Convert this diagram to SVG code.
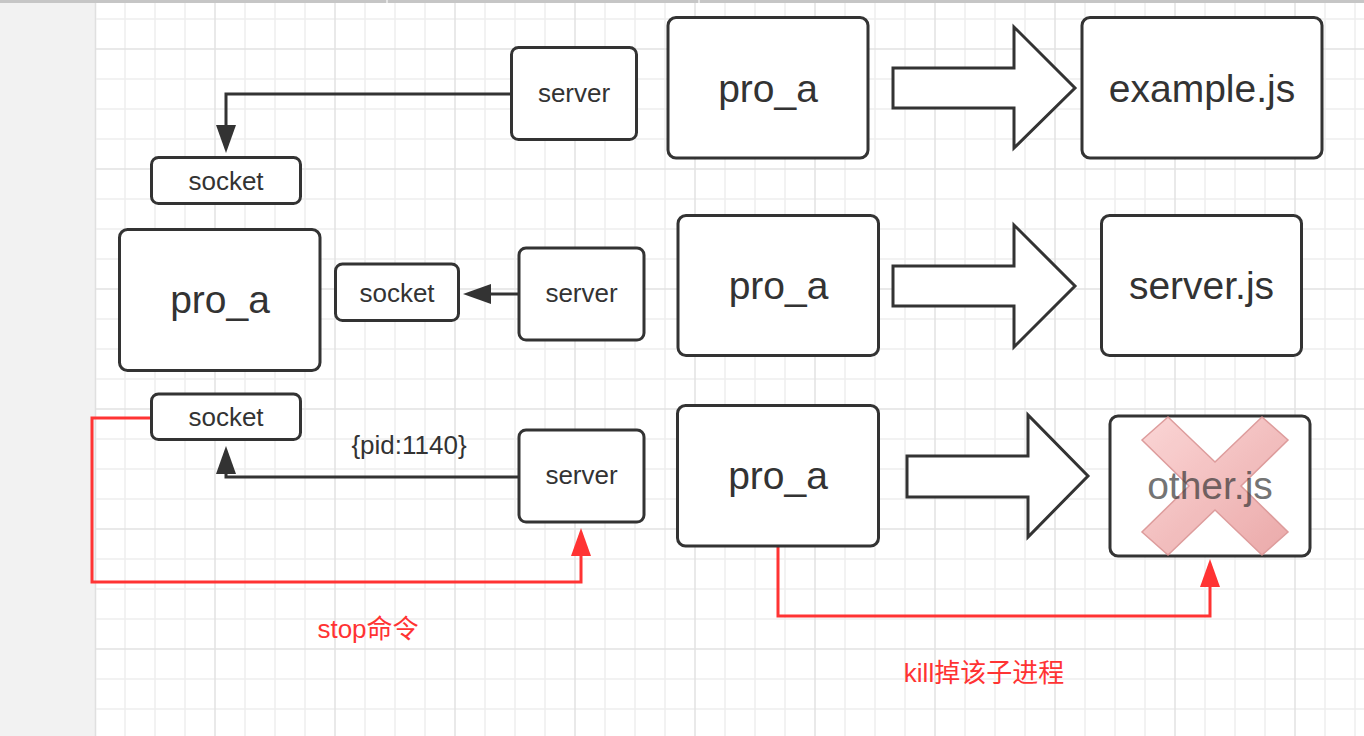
<svg xmlns="http://www.w3.org/2000/svg" width="1364" height="736" viewBox="0 0 1364 736">
<style>
.minor{stroke:#eeeeee;stroke-width:1.5}
.major{stroke:#e2e2e2;stroke-width:1.5}
.box{fill:#ffffff;stroke:#333333;stroke-width:3}
.big{font-family:"Liberation Sans",Arial,sans-serif;font-size:39px;fill:#333333;text-anchor:middle}
.small{font-family:"Liberation Sans",Arial,sans-serif;font-size:26px;fill:#333333;text-anchor:middle}
.red{font-family:"Liberation Sans","Noto Sans CJK SC",sans-serif;font-size:26px;fill:#ff3333;text-anchor:middle}
.line{fill:none;stroke:#333333;stroke-width:3}
.rline{fill:none;stroke:#ff3333;stroke-width:3}
.blk{fill:#ffffff;stroke:#333333;stroke-width:3;stroke-linejoin:miter}
</style>
<defs>
<marker id="ah" markerUnits="userSpaceOnUse" markerWidth="30" markerHeight="22" refX="1" refY="11" orient="auto">
<path d="M0,1 L28,11 L0,21 z" fill="#333333"/>
</marker>
<marker id="ahr" markerUnits="userSpaceOnUse" markerWidth="30" markerHeight="22" refX="1" refY="11" orient="auto">
<path d="M0,1 L28,11 L0,21 z" fill="#ff3333"/>
</marker>
<linearGradient id="xg" x1="0" y1="0" x2="1" y2="1">
<stop offset="0" stop-color="#fbd0d0"/>
<stop offset="1" stop-color="#e89e9e"/>
</linearGradient>
</defs>

<rect x="0" y="0" width="1364" height="736" fill="#ffffff"/>
<rect x="0" y="0" width="95" height="736" fill="#f2f2f2"/>
<line x1="95.5" y1="0" x2="95.5" y2="736" stroke="#e0e0e0" stroke-width="1.5"/>

<g id="grid">
<g class="minor">
<path d="M125,0V736M155,0V736M185,0V736M245,0V736M275,0V736M305,0V736M365,0V736M395,0V736M425,0V736M485,0V736M515,0V736M545,0V736M605,0V736M635,0V736M665,0V736M725,0V736M755,0V736M785,0V736M845,0V736M875,0V736M905,0V736M965,0V736M995,0V736M1025,0V736M1085,0V736M1115,0V736M1145,0V736M1205,0V736M1235,0V736M1265,0V736M1325,0V736M1355,0V736"/>
<path d="M96,19H1364M96,79H1364M96,109H1364M96,139H1364M96,199H1364M96,229H1364M96,259H1364M96,319H1364M96,349H1364M96,379H1364M96,439H1364M96,469H1364M96,499H1364M96,559H1364M96,589H1364M96,619H1364M96,679H1364M96,709H1364"/>
</g>
<g class="major">
<path d="M215,0V736M335,0V736M455,0V736M575,0V736M695,0V736M815,0V736M935,0V736M1055,0V736M1175,0V736M1295,0V736"/>
<path d="M96,49H1364M96,169H1364M96,289H1364M96,409H1364M96,529H1364M96,649H1364"/>
</g>
</g>
<rect x="0" y="0" width="1364" height="3" fill="#c6c6c6"/>
<rect x="386" y="0" width="2" height="3" fill="#e6e6e6"/>
<rect x="698" y="0" width="2" height="3" fill="#e6e6e6"/>

<g id="connectors">
<path class="line" d="M511,94 H226 V126" marker-end="url(#ah)"/>
<path class="line" d="M519,294 H490" marker-end="url(#ah)"/>
<path class="line" d="M519,477 H226 V473" marker-end="url(#ah)"/>
<text class="small" x="409" y="454">{pid:1140}</text>
<path class="rline" d="M151,418 H92 V582 H581 V555" marker-end="url(#ahr)"/>
<text class="red" x="368" y="638">stop命令</text>
<path class="rline" d="M778,546 V616 H1210 V586" marker-end="url(#ahr)"/>
<text class="red" x="984" y="682">kill掉该子进程</text>
<polygon id="arrow-top" class="blk" points="893,68 1014,68 1014,27 1075,88 1014,148 1014,108 893,108"/>
<polygon id="arrow-mid" class="blk" points="893,266 1014,266 1014,225 1075,286 1014,347 1014,306 893,306"/>
<polygon id="arrow-bot" class="blk" points="907,456 1028,456 1028,415 1088,476 1028,537 1028,497 907,497"/>
</g>

<g id="server-top">
<rect class="box" x="511.5" y="47.5" width="125" height="92" rx="7"/>
<text class="small" x="574" y="102">server</text>
</g>
<g id="pro_a-top">
<rect class="box" x="668" y="17.5" width="200" height="140.5" rx="8"/>
<text class="big" x="768" y="101.5">pro_a</text>
</g>
<g id="example-js">
<rect class="box" x="1082" y="17.5" width="240" height="140.5" rx="8"/>
<text class="big" x="1202" y="101.5">example.js</text>
</g>
<g id="socket-top">
<rect class="box" x="151.5" y="157.5" width="149" height="46" rx="7"/>
<text class="small" x="226" y="190">socket</text>
</g>
<g id="pro_a-left">
<rect class="box" x="119.5" y="229.5" width="200.5" height="141" rx="8"/>
<text class="big" x="220" y="313">pro_a</text>
</g>
<g id="socket-mid">
<rect class="box" x="335.5" y="264" width="123" height="56.5" rx="7"/>
<text class="small" x="397" y="302">socket</text>
</g>
<g id="server-mid">
<rect class="box" x="519" y="248" width="125" height="92" rx="7"/>
<text class="small" x="581.5" y="302">server</text>
</g>
<g id="pro_a-mid">
<rect class="box" x="678" y="215.5" width="200.5" height="140" rx="8"/>
<text class="big" x="778.5" y="299">pro_a</text>
</g>
<g id="server-js">
<rect class="box" x="1101.5" y="215.5" width="200" height="140" rx="8"/>
<text class="big" x="1201.5" y="299">server.js</text>
</g>
<g id="socket-bot">
<rect class="box" x="151.5" y="394" width="149" height="45.5" rx="7"/>
<text class="small" x="226" y="426">socket</text>
</g>
<g id="server-bot">
<rect class="box" x="519" y="430" width="125" height="92" rx="7"/>
<text class="small" x="581.5" y="484">server</text>
</g>
<g id="pro_a-bot">
<rect class="box" x="677.5" y="405.5" width="201" height="140.5" rx="8"/>
<text class="big" x="778" y="489">pro_a</text>
</g>
<g id="other-js">
<rect class="box" x="1110" y="416" width="200" height="140" rx="8"/>
<polygon points="1168,417 1215,462 1262,417 1288,440 1241,486 1288,532 1262,555 1215,510 1168,555 1142,532 1189,486 1142,440" fill="url(#xg)" stroke="#d98f8f" stroke-width="1.5" opacity="0.88"/>
<text class="big" x="1210" y="499" opacity="0.68">other.js</text>
</g>
</svg>
